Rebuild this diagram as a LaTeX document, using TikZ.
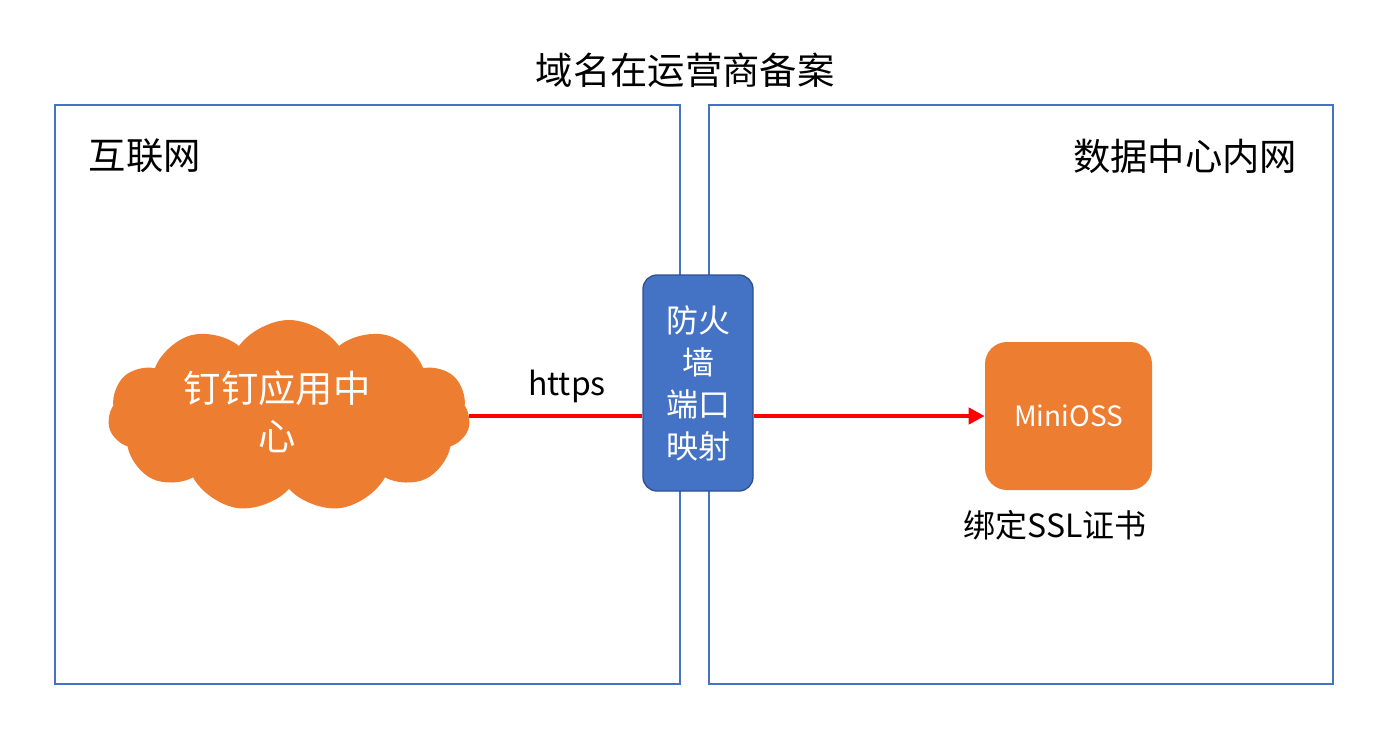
\documentclass[tikz,border=0pt]{standalone}
\usepackage{fontspec}
\setmainfont{Noto Sans CJK SC}
\newfontfamily\cjk{Noto Sans CJK SC}
\usetikzlibrary{shapes.symbols,arrows.meta}
\definecolor{boxblue}{HTML}{4472C4}
\definecolor{darkblue}{HTML}{2F528F}
\definecolor{orng}{HTML}{ED7D31}
\definecolor{redline}{HTML}{FF0000}
\tikzset{
  zone/.style={draw=boxblue, line width=1.2pt},
  lbl/.style={font=\cjk\fontsize{28}{34}\selectfont, text=black},
  wlbl/.style={text=white, align=center},
  link/.style={draw=redline, line width=3pt},
}
\begin{document}
\begin{tikzpicture}[x=0.75pt,y=-0.75pt]
\useasboundingbox (0,0) rectangle (1400,743);
\fill[white] (0,0) rectangle (1400,743);
% zones
\draw[zone] (55,105) rectangle (680,684);
\draw[zone] (709,105) rectangle (1333,684);
\node[lbl] (title) at (685,70) {域名在运营商备案};
\node[lbl, anchor=west] (inet) at (84,156) {互联网};
\node[lbl, anchor=east] (dc) at (1302,156) {数据中心内网};
% cloud
\node[cloud, cloud puffs=11, cloud puff arc=110, aspect=2, fill=orng, draw=none,
      minimum width=362*0.75pt, minimum height=192*0.75pt, inner sep=0pt,
      wlbl, font=\cjk\fontsize{28}{36}\selectfont] (cloud) at (289,416) {};
\node[wlbl, font=\cjk\fontsize{28}{36}\selectfont] (cloudtxt) at (277,412) {钉钉应用中\\心};
% firewall
\node[draw=darkblue, fill=boxblue, line width=1pt, rounded corners=14*0.75pt,
      minimum width=110*0.75pt, minimum height=216*0.75pt, inner sep=0pt,
      wlbl, font=\cjk\fontsize{24}{31.5}\selectfont] (fw) at (698,383) {防火\\墙\\端口\\映射};
% MiniOSS
\node[fill=orng, rounded corners=22*0.75pt,
      minimum width=167*0.75pt, minimum height=148*0.75pt, inner sep=0pt,
      wlbl, font=\cjk\fontsize{21}{26}\selectfont] (oss) at (1068.5,416) {MiniOSS};
\node[font=\cjk\fontsize{24}{30}\selectfont] (ssl) at (1055,525) {绑定SSL证书};
% connectors
\draw[link] (cloud.east |- 0,416) -- (fw.west |- 0,416);
\draw[link, -{Triangle[length=16*0.75pt,width=16*0.75pt]}] (fw.east |- 0,416) -- (oss.west |- 0,416);
\node[font=\cjk\fontsize{24}{30}\selectfont] (https) at (567,386) {https};
\end{tikzpicture}
\end{document}
